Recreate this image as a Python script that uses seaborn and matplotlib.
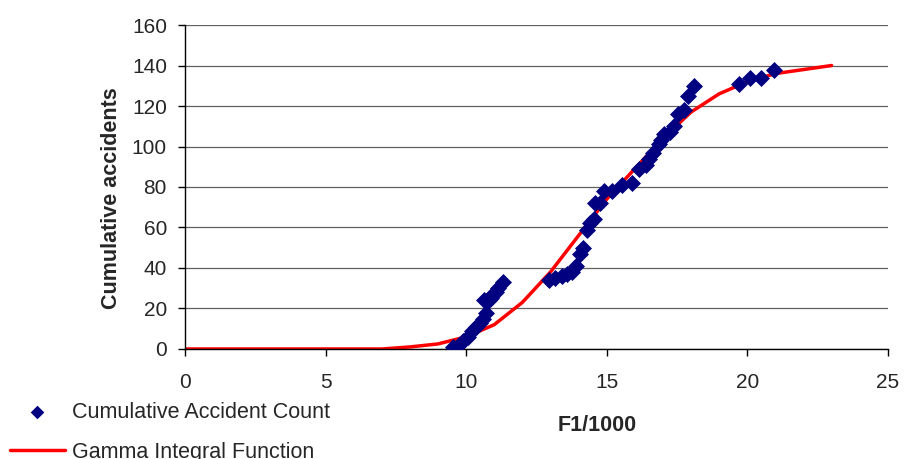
import matplotlib
matplotlib.use("Agg")
import matplotlib.pyplot as plt
import seaborn as sns
import pandas as pd

sns.set_style("white")
plt.rcParams["font.family"] = ["Liberation Sans", "DejaVu Sans"]

# observed cumulative accident counts (x = F1/1000)
obs_x = [9.55, 9.75, 9.9, 10.05, 10.2, 10.35, 10.5, 10.6, 10.7, 10.65, 10.8,
         10.9, 10.95, 11.05, 11.15, 11.3,
         12.95, 13.15, 13.4, 13.6, 13.75, 13.9, 14.05, 14.15, 14.3, 14.4,
         14.55, 14.6, 14.75, 14.9, 15.2, 15.55, 15.9, 16.15, 16.4, 16.5,
         16.65, 16.85, 16.95, 17.05, 17.25, 17.4, 17.55, 17.75, 17.9, 18.1,
         19.7, 20.1, 20.5, 20.95]
obs_y = [1, 2, 4, 6, 9, 11, 13, 15, 18, 24, 24,
         25, 27, 28, 30, 33,
         34, 35, 36, 37, 38, 41, 47, 50, 59, 62,
         64, 72, 72, 78, 78, 81, 82, 89, 91, 94,
         97, 101, 103, 106, 107, 110, 116, 118, 125, 130,
         131, 134, 134, 138]

# gamma integral (fitted cumulative curve)
fit_x = [0, 7, 8, 9, 10, 11, 12, 13, 14, 15, 16, 17, 18, 19, 20, 21, 22, 23]
fit_y = [0, 0, 1, 2.5, 6, 12, 23, 38, 56, 74, 89, 104, 117, 126, 132, 136, 138, 140]

obs = pd.DataFrame({"x": obs_x, "y": obs_y})
fit = pd.DataFrame({"x": fit_x, "y": fit_y})

fig = plt.figure(figsize=(9.05, 4.59), dpi=100)
ax = fig.add_axes([0.2044, 0.2397, 0.7766, 0.7058])

sns.lineplot(data=fit, x="x", y="y", ax=ax, color="#ff0000", linewidth=2.5,
             label="Gamma Integral Function", zorder=2)
sns.scatterplot(data=obs, x="x", y="y", ax=ax, marker="D", color="#000080",
                s=75, edgecolor="#000080", linewidth=0,
                label="Cumulative Accident Count", zorder=3)

ax.set_xlim(0, 25)
ax.set_ylim(0, 160)
ax.set_xticks(range(0, 26, 5))
ax.set_yticks(range(0, 161, 20))
ax.yaxis.grid(True, color="#606060", linewidth=0.9)
ax.set_axisbelow(True)
for s in ["top", "right"]:
    ax.spines[s].set_visible(False)
for s in ["left", "bottom"]:
    ax.spines[s].set_color("black")
    ax.spines[s].set_linewidth(1.0)
ax.tick_params(axis="both", direction="out", length=5, width=1, color="black",
               labelsize=15, bottom=True, left=True)
ax.tick_params(axis="y", pad=8)
ax.tick_params(axis="x", pad=12)

ax.set_xlabel("F1/1000", fontsize=15.5, fontweight="bold", va="center")
ax.xaxis.set_label_coords(0.586, -0.235)
ax.set_ylabel("Cumulative accidents", fontsize=15.5, fontweight="bold", va="center")
ax.yaxis.set_label_coords(-0.104, 0.465)

h, l = ax.get_legend_handles_labels()
ax.get_legend().remove()
order = [l.index("Cumulative Accident Count"), l.index("Gamma Integral Function")]
fig.legend([h[i] for i in order], [l[i] for i in order], loc="upper left",
           bbox_to_anchor=(0.011, 0.1245), frameon=False, fontsize=15.5,
           borderpad=0, borderaxespad=0, handlelength=2.55, handletextpad=0.33,
           labelspacing=0.88, markerscale=0.8)

fig.savefig("out.png", dpi=100)
